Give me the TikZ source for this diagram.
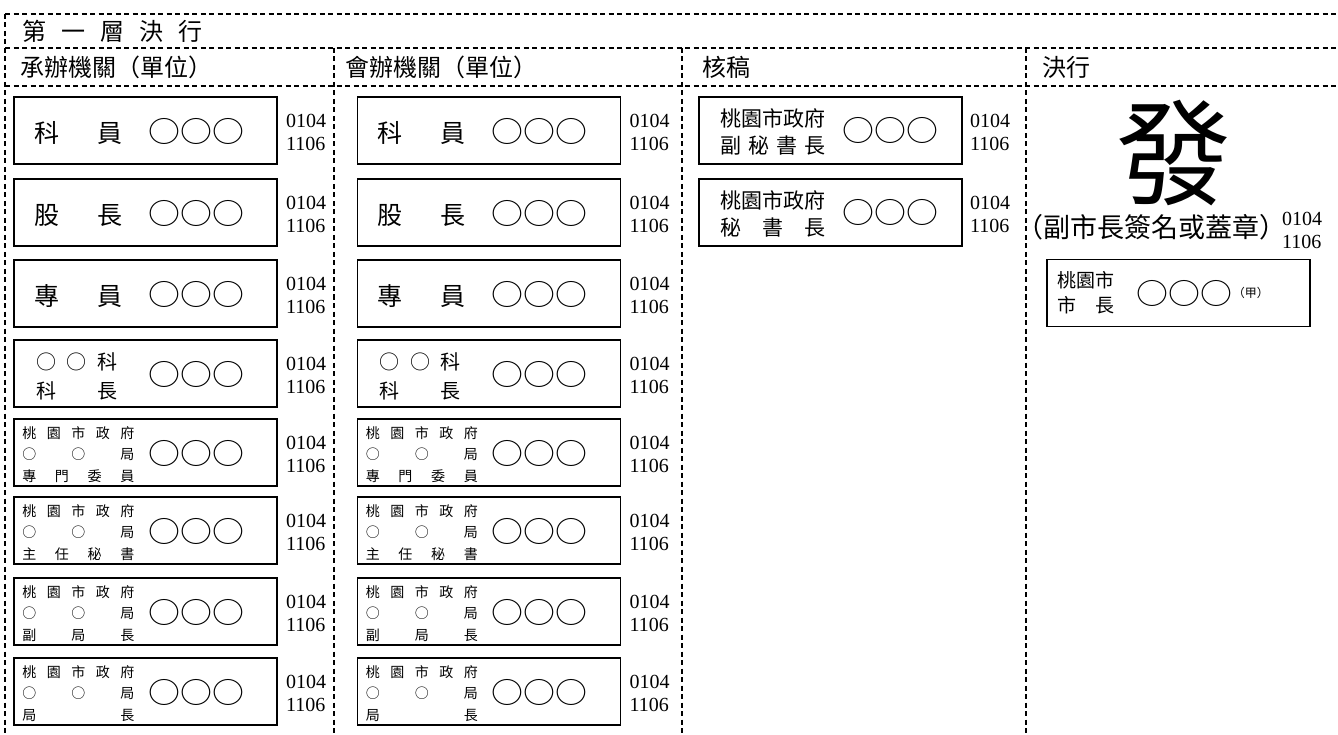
\documentclass[tikz,border=0pt]{standalone}
\usepackage{fontspec}
\setmainfont{Liberation Serif}
\newfontfamily\cjk{Noto Sans CJK TC}
\usetikzlibrary{positioning}
\newcommand{\spreadrow}[2]{\makebox[#1][s]{#2}}
\tikzstyle{frame}=[line width=1.7pt, dash pattern=on 5pt off 3.5pt]
\tikzstyle{slot}=[draw, line width=1.8pt, minimum width=263pt, minimum height=67pt, inner sep=0pt]
\tikzstyle{stamp}=[inner sep=0pt, font=\cjk\fontsize{29}{29}\selectfont]
\tikzstyle{date}=[inner sep=0pt, align=left, font=\fontsize{20}{23}\selectfont]
\tikzstyle{head}=[inner sep=0pt, anchor=west, font=\cjk\fontsize{24}{24}\selectfont]
\tikzstyle{bigname}=[inner sep=0pt, anchor=west, font=\cjk\fontsize{25}{25}\selectfont]
\tikzstyle{midname}=[inner sep=0pt, anchor=west, align=left, font=\cjk\fontsize{20}{29}\selectfont]
\tikzstyle{smallname}=[inner sep=0pt, anchor=west, align=left, font=\cjk\fontsize{14}{21.5}\selectfont]
\tikzstyle{offname}=[inner sep=0pt, anchor=west, align=left, font=\cjk\fontsize{21}{27}\selectfont]
\tikzstyle{mayorname}=[inner sep=0pt, anchor=west, align=left, font=\cjk\fontsize{19}{25}\selectfont]

\begin{document}
\begin{tikzpicture}[x=1pt, y=-1pt]
	\useasboundingbox (0,0) rectangle (1338,735);
	\clip (0,0) rectangle (1338,735);
	% dashed frame
	\begin{scope}
		\draw[frame] (5,14) -- (1345,14);
		\draw[frame] (5,48) -- (1345,48);
		\draw[frame] (5,86) -- (1345,86);
		\draw[frame] (5,14) -- (5,745);
		\draw[frame] (334,48) -- (334,745);
		\draw[frame] (682,48) -- (682,745);
		\draw[frame] (1026,48) -- (1026,745);
	\end{scope}
	% headers
	\begin{scope}
		\node[head] (h0) at (22,31) {\spreadrow{180pt}{第\hfill 一\hfill 層\hfill 決\hfill 行}};
		\node[head] (h1) at (20,67) {承辦機關（單位）};
		\node[head] (h2) at (345,67) {會辦機關（單位）};
		\node[head] (h3) at (702,67) {核稿};
		\node[head] (h4) at (1042,67) {決行};
	\end{scope}
	% columns 1 and 2
	\foreach \c/\cx in {1/145.5, 2/489} {
		\foreach \r/\ry in {1/130.5, 2/212.5, 3/293.5, 4/373.5, 5/452.5, 6/530.5, 7/611.5, 8/691.5} {
			\node[slot] (s\c-\r) at (\cx,\ry) {};
			\node[stamp] (o\c-\r) at ([xshift=183pt, yshift=-1pt]s\c-\r.west) {\scalebox{1.1}[1]{○○○}};
			\node[date, right=8pt of s\c-\r, yshift=-2pt] (d\c-\r) {0104\\1106};
		}
		\node[bigname, right=21pt of s\c-1.west, yshift=-3pt] (n\c-1) {\spreadrow{88pt}{科\hfill 員}};
		\node[bigname, right=21pt of s\c-2.west, yshift=-3pt] (n\c-2) {\spreadrow{88pt}{股\hfill 長}};
		\node[bigname, right=21pt of s\c-3.west, yshift=-3pt] (n\c-3) {\spreadrow{88pt}{專\hfill 員}};
		\node[midname, right=23pt of s\c-4.west, yshift=-3pt] (n\c-4) {\spreadrow{81pt}{○\hfill ○\hfill 科}\\\spreadrow{81pt}{科\hfill 長}};
		\node[smallname, right=9pt of s\c-5.west, yshift=-2pt] (n\c-5) {\spreadrow{112pt}{桃\hfill 園\hfill 市\hfill 政\hfill 府}\\\spreadrow{112pt}{○\hfill ○\hfill 局}\\\spreadrow{112pt}{專\hfill 門\hfill 委\hfill 員}};
		\node[smallname, right=9pt of s\c-6.west, yshift=-2pt] (n\c-6) {\spreadrow{112pt}{桃\hfill 園\hfill 市\hfill 政\hfill 府}\\\spreadrow{112pt}{○\hfill ○\hfill 局}\\\spreadrow{112pt}{主\hfill 任\hfill 秘\hfill 書}};
		\node[smallname, right=9pt of s\c-7.west, yshift=-2pt] (n\c-7) {\spreadrow{112pt}{桃\hfill 園\hfill 市\hfill 政\hfill 府}\\\spreadrow{112pt}{○\hfill ○\hfill 局}\\\spreadrow{112pt}{副\hfill 局\hfill 長}};
		\node[smallname, right=9pt of s\c-8.west, yshift=-2pt] (n\c-8) {\spreadrow{112pt}{桃\hfill 園\hfill 市\hfill 政\hfill 府}\\\spreadrow{112pt}{○\hfill ○\hfill 局}\\\spreadrow{112pt}{局\hfill 長}};
	}
	% column 3
	\begin{scope}
		\node[slot] (s3-1) at (830.5,130.5) {};
		\node[stamp] (o3-1) at ([xshift=192pt]s3-1.west) {\scalebox{1.1}[1]{○○○}};
		\node[date, right=7pt of s3-1, yshift=-2pt] (d3-1) {0104\\1106};
		\node[offname, right=22pt of s3-1.west, yshift=-1pt] (n3-1) {\spreadrow{105pt}{桃\hfill 園\hfill 市\hfill 政\hfill 府}\\\spreadrow{105pt}{副\hfill 秘\hfill 書\hfill 長}};
		\node[slot] (s3-2) at (830.5,212.5) {};
		\node[stamp] (o3-2) at ([xshift=192pt]s3-2.west) {\scalebox{1.1}[1]{○○○}};
		\node[date, right=7pt of s3-2, yshift=-2pt] (d3-2) {0104\\1106};
		\node[offname, right=22pt of s3-2.west, yshift=-1pt] (n3-2) {\spreadrow{105pt}{桃\hfill 園\hfill 市\hfill 政\hfill 府}\\\spreadrow{105pt}{秘\hfill 書\hfill 長}};
	\end{scope}
	% column 4
	\begin{scope}
		\node[inner sep=0pt, font=\cjk\fontsize{115}{115}\selectfont] (big) at (1174,153.5) {發};
		\node[inner sep=0pt, font=\cjk\fontsize{27}{27}\selectfont] (note) at (1151.5,227) {（副市長簽名或蓋章）};
		\node[date, anchor=west] (d4-1) at (1282,230.5) {0104\\1106};
		\node[slot] (s4-1) at (1178.5,293) {};
		\node[stamp] (o4-1) at ([xshift=138.5pt]s4-1.west) {\scalebox{1.1}[1]{○○○}};
		\node[inner sep=0pt, anchor=west, font=\cjk\fontsize{12}{12}\selectfont] (jia) at (o4-1.east) {（甲）};
		\node[mayorname, right=11pt of s4-1.west] (n4-1) {\spreadrow{57pt}{桃\hfill 園\hfill 市}\\\spreadrow{57pt}{市\hfill 長}};
	\end{scope}
\end{tikzpicture}
\end{document}
